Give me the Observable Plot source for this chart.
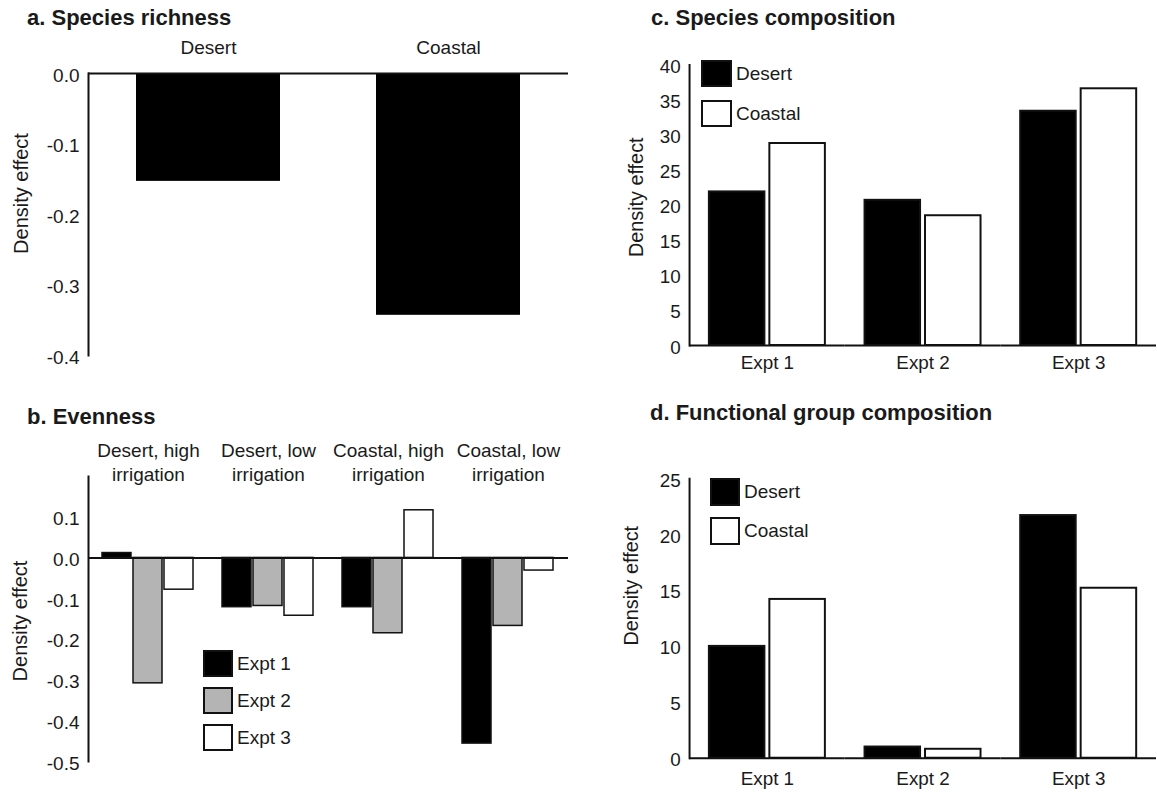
<!DOCTYPE html>
<html>
<head>
<meta charset="utf-8">
<script src="https://cdn.jsdelivr.net/npm/d3@7"></script>
<script src="https://cdn.jsdelivr.net/npm/@observablehq/plot@0.6"></script>
<style>
html, body { margin: 0; padding: 0; background: #fff; overflow: hidden; }
#root { position: relative; width: 1157px; height: 792px; overflow: hidden;
  font-family: "Liberation Sans", Arial, Helvetica, sans-serif; color: #1a1a1a; }
.panel { position: absolute; }
.title { position: absolute; font-weight: bold; font-size: 22px; line-height: 24px; white-space: nowrap; }
.leg { position: absolute; font-size: 19px; white-space: nowrap; display: flex; align-items: center; }
.sw { box-sizing: border-box; border: 2px solid #111; margin-right: 4px; }
</style>
</head>
<body>
<div id="root"></div>
<script>
// ---------- data ----------
// a. Species richness
const richnessSites = ["Desert", "Coastal"];
const richnessValues = [-0.153, -0.343];
const richnessTicks = [0, -0.1, -0.2, -0.3, -0.4];

// b. Evenness
const evennessGroups = ["Desert, high\nirrigation", "Desert, low\nirrigation", "Coastal, high\nirrigation", "Coastal, low\nirrigation"];
const experiments = ["Expt 1", "Expt 2", "Expt 3"];
const evennessExpt1 = [0.012, -0.121, -0.121, -0.456];
const evennessExpt2 = [-0.308, -0.118, -0.185, -0.167];
const evennessExpt3 = [-0.078, -0.142, 0.117, -0.031];
const evennessTicks = [0.1, 0, -0.1, -0.2, -0.3, -0.4, -0.5];
const exptColors = ["#000000", "#b4b4b4", "#ffffff"];

// c. Species composition
const sites = ["Desert", "Coastal"];
const siteColors = ["#000000", "#ffffff"];
const speciesDesert = [21.9, 20.7, 33.4];
const speciesCoastal = [28.8, 18.5, 36.6];
const speciesTicks = [0, 5, 10, 15, 20, 25, 30, 35, 40];

// d. Functional group composition
const functionalDesert = [10.0, 1.0, 21.7];
const functionalCoastal = [14.2, 0.8, 15.2];
const functionalTicks = [0, 5, 10, 15, 20, 25];

const yLabel = "Density effect";
// ---------- layout ----------
const FONT = '"Liberation Sans", Arial, Helvetica, sans-serif';
const INK = "#111";
const style = { fontFamily: FONT, fontSize: "19px", color: "#1a1a1a", background: "none", overflow: "visible" };
const root = document.getElementById("root");

function place(node, left, top) {
  const d = document.createElement("div");
  d.className = "panel";
  d.style.left = left + "px";
  d.style.top = top + "px";
  d.appendChild(node);
  root.appendChild(d);
}
function title(text, left, cy) {
  const d = document.createElement("div");
  d.className = "title";
  d.textContent = text;
  d.style.left = left + "px";
  d.style.top = (cy - 12) + "px";
  root.appendChild(d);
}
function legend(labels, colors, left, tops, w, h) {
  labels.forEach((lab, i) => {
    const d = document.createElement("div");
    d.className = "leg";
    d.style.left = left + "px";
    d.style.top = tops[i] + "px";
    d.style.height = h + "px";
    const s = document.createElement("div");
    s.className = "sw";
    s.style.width = w + "px";
    s.style.height = h + "px";
    s.style.background = colors[i];
    const t = document.createElement("span");
    t.textContent = lab;
    d.appendChild(s);
    d.appendChild(t);
    root.appendChild(d);
  });
}

// ---------- panel a ----------
const dataA = richnessSites.map((s, i) => ({ site: s, v: richnessValues[i] }));
const plotA = Plot.plot({
  width: 580, height: 380,
  marginLeft: 88, marginRight: 12, marginTop: 73, marginBottom: 25,
  style,
  x: { domain: richnessSites, paddingInner: 0.4, paddingOuter: 0.2, axis: null },
  y: { domain: [-0.4, 0], axis: null },
  marks: [
    Plot.barY(dataA, { x: "site", y: "v", fill: "#000" }),
    Plot.ruleY([0], { stroke: INK, strokeWidth: 2 }),
    Plot.frame({ anchor: "left", stroke: INK, strokeWidth: 2 }),
    Plot.axisY({ ticks: richnessTicks, tickSize: 0, tickPadding: 9, tickFormat: d => d.toFixed(1), label: null, dy: 2, fontSize: 19 }),
    Plot.axisX({ anchor: "top", tickSize: 0, tickPadding: 20, label: null, fontSize: 19 }),
    Plot.text([yLabel], { text: d => d, frameAnchor: "left", textAnchor: "middle", lineAnchor: "middle", rotate: -90, dx: -67, dy: -21, fontSize: 20 })
  ]
});
place(plotA, 0, 0);
title("a. Species richness", 27, 18);

// ---------- panel b ----------
const dataB = [];
evennessGroups.forEach((g, i) => {
  dataB.push({ group: g, expt: experiments[0], v: evennessExpt1[i] });
  dataB.push({ group: g, expt: experiments[1], v: evennessExpt2[i] });
  dataB.push({ group: g, expt: experiments[2], v: evennessExpt3[i] });
});
const plotB = Plot.plot({
  width: 580, height: 412,
  marginLeft: 88, marginRight: 12, marginTop: 96, marginBottom: 31,
  style,
  fx: { domain: evennessGroups, padding: 0, axis: null },
  x: { domain: experiments, paddingInner: 0.06, paddingOuter: 0.45, axis: null },
  y: { domain: [-0.5, 0.2], axis: null },
  color: { domain: experiments, range: exptColors },
  marks: [
    Plot.barY(dataB, { fx: "group", x: "expt", y: "v", fill: "expt", stroke: INK, strokeWidth: 1.5 }),
    Plot.ruleY([0], { stroke: INK, strokeWidth: 2 }),
    Plot.frame({ anchor: "left", facetAnchor: "left", stroke: INK, strokeWidth: 2 }),
    Plot.axisY({ ticks: evennessTicks, tickSize: 0, tickPadding: 9, tickFormat: d => d.toFixed(1), label: null, dy: 2, fontSize: 19 }),
    Plot.axisFx({ anchor: "top", tickSize: 0, tickPadding: -4, lineHeight: 1.25, label: null, fontSize: 19 }),
    Plot.text([evennessGroups[0]], { fx: d => d, text: () => yLabel, frameAnchor: "left", textAnchor: "middle", lineAnchor: "middle", rotate: -90, dx: -68, dy: 2, fontSize: 20 })
  ]
});
place(plotB, 0, 380);
title("b. Evenness", 27, 417);
legend(experiments, exptColors, 203, [650, 687, 724], 30, 27);

// ---------- panels c & d ----------
function compositionPlot(desert, coastal, ticks, ymax, o) {
  const data = [];
  experiments.forEach((e, i) => {
    data.push({ expt: e, site: sites[0], v: desert[i] });
    data.push({ expt: e, site: sites[1], v: coastal[i] });
  });
  return Plot.plot({
    width: 582, height: o.height,
    marginLeft: 109, marginRight: 0, marginTop: o.top, marginBottom: o.bottom,
    style,
    fx: { domain: experiments, padding: 0, axis: null },
    x: { domain: sites, paddingInner: 0.09, paddingOuter: 0.32, axis: null },
    y: { domain: [0, ymax], axis: null },
    color: { domain: sites, range: siteColors },
    marks: [
      Plot.barY(data, { fx: "expt", x: "site", y: "v", fill: "site", stroke: INK, strokeWidth: 2 }),
      Plot.ruleY([0], { stroke: INK, strokeWidth: 2 }),
      Plot.frame({ anchor: "left", facetAnchor: "left", stroke: INK, strokeWidth: 2 }),
      Plot.axisY({ ticks, tickSize: 0, tickPadding: 9, tickFormat: d => String(d), label: null, dy: 2, fontSize: 19 }),
      Plot.axisFx({ anchor: "bottom", tickSize: 0, tickPadding: o.fxPad, label: null, fontSize: 19 }),
      Plot.text([experiments[0]], { fx: d => d, text: () => yLabel, frameAnchor: "left", textAnchor: "middle", lineAnchor: "middle", rotate: -90, dx: o.ldx, dy: o.ldy, fontSize: 20 })
    ]
  });
}
const plotC = compositionPlot(speciesDesert, speciesCoastal, speciesTicks, 40,
  { height: 380, top: 65, bottom: 32, fxPad: 10, ldx: -53, ldy: -8 });
place(plotC, 580, 0);
title("c. Species composition", 651, 18);
legend(sites, siteColors, 701, [60, 100], 31, 27);

const plotD = compositionPlot(functionalDesert, functionalCoastal, functionalTicks, 25,
  { height: 412, top: 99, bottom: 31, fxPad: 14, ldx: -58, ldy: -33 });
place(plotD, 580, 380);
title("d. Functional group composition", 650, 413);
legend(sites, siteColors, 710, [478, 517], 30, 28);
</script>
</body>
</html>
